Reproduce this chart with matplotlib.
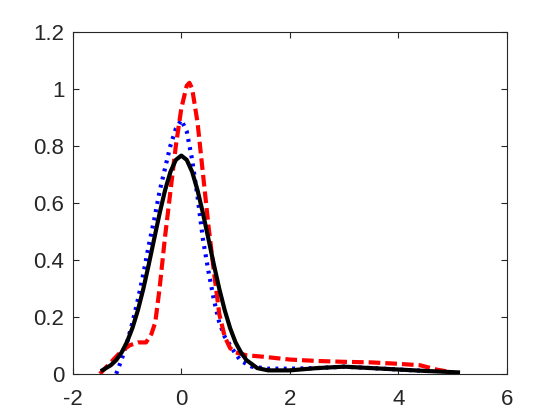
import matplotlib
matplotlib.use("Agg")
import matplotlib.pyplot as plt

# Кривые плотности, значения
x_blue = [-1.2, -1.1, -1.0, -0.9, -0.8, -0.7, -0.6, -0.5, -0.4, -0.3, -0.2, -0.1, 0.0,
          0.1, 0.2, 0.3, 0.4, 0.5, 0.6, 0.7, 0.8, 0.9, 1.0, 1.1, 1.3, 1.6, 2.0, 2.5,
          3.0, 3.5, 4.0, 4.5]
y_blue = [0.0, 0.05, 0.11, 0.18, 0.26, 0.35, 0.45, 0.54, 0.64, 0.72, 0.80, 0.86, 0.89,
          0.85, 0.75, 0.62, 0.47, 0.36, 0.26, 0.18, 0.13, 0.10, 0.07, 0.045, 0.025, 0.018,
          0.018, 0.02, 0.025, 0.02, 0.015, 0.01]

x_red = [-1.5, -1.3, -1.1, -0.95, -0.8, -0.65, -0.55, -0.48, -0.4, -0.3, -0.2, -0.1, 0.0,
         0.1, 0.15, 0.2, 0.3, 0.4, 0.5, 0.6, 0.7, 0.8, 0.9, 1.0, 1.2, 1.5, 2.0, 2.5, 3.0,
         3.5, 4.0, 4.4, 4.7, 5.0]
y_red = [0.0, 0.04, 0.08, 0.10, 0.11, 0.11, 0.14, 0.18, 0.30, 0.48, 0.64, 0.80, 0.93,
         1.01, 1.02, 1.0, 0.88, 0.70, 0.52, 0.36, 0.21, 0.13, 0.09, 0.075, 0.065, 0.06,
         0.05, 0.045, 0.042, 0.04, 0.035, 0.03, 0.015, 0.005]

x_black = [-1.45, -1.3, -1.2, -1.1, -1.0, -0.9, -0.8, -0.7, -0.6, -0.5, -0.4, -0.3, -0.2,
           -0.1, 0.0, 0.1, 0.2, 0.3, 0.4, 0.5, 0.6, 0.7, 0.8, 0.9, 1.0, 1.1, 1.2, 1.4, 1.6,
           2.0, 2.5, 3.0, 3.5, 4.0, 4.5, 5.1]
y_black = [0.013, 0.03, 0.048, 0.075, 0.112, 0.161, 0.223, 0.298, 0.383, 0.473, 0.562,
           0.643, 0.708, 0.750, 0.765, 0.750, 0.708, 0.643, 0.562, 0.473, 0.383, 0.298,
           0.223, 0.160, 0.11, 0.075, 0.048, 0.02, 0.012, 0.012, 0.02, 0.025, 0.02, 0.015,
           0.01, 0.005]

x_ticks = [-2, 0, 2, 4, 6]
y_ticks = [0, 0.2, 0.4, 0.6, 0.8, 1.0, 1.2]
y_labels = ["0", "0.2", "0.4", "0.6", "0.8", "1", "1.2"]

plt.rcParams['font.family'] = ['Liberation Sans', 'DejaVu Sans']
fig = plt.figure(figsize=(5.6, 4.2), dpi=100)
ax = fig.add_axes([0.13, 0.11, 0.775, 0.815])

ax.plot(x_blue, y_blue, linestyle=':', color='#0000ff', linewidth=3, dashes=(0.7, 1.3))
ax.plot(x_red, y_red, linestyle='--', color='#ff0000', linewidth=3, dashes=(2.8, 1.2))
ax.plot(x_black, y_black, linestyle='-', color='black', linewidth=3)

ax.set_xlim(-2, 6)
ax.set_ylim(0, 1.2)
ax.set_xticks(x_ticks)
ax.set_xticklabels([str(t) for t in x_ticks])
ax.set_yticks(y_ticks)
ax.set_yticklabels(y_labels)

edge = '#262626'
for s in ax.spines.values():
    s.set_color(edge)
    s.set_linewidth(0.8)
ax.tick_params(direction='in', length=4, width=0.8, colors=edge, labelsize=16,
               top=True, right=True)
ax.tick_params(axis='x', pad=11)
ax.tick_params(axis='y', pad=6)

fig.savefig("out.png", dpi=100)
